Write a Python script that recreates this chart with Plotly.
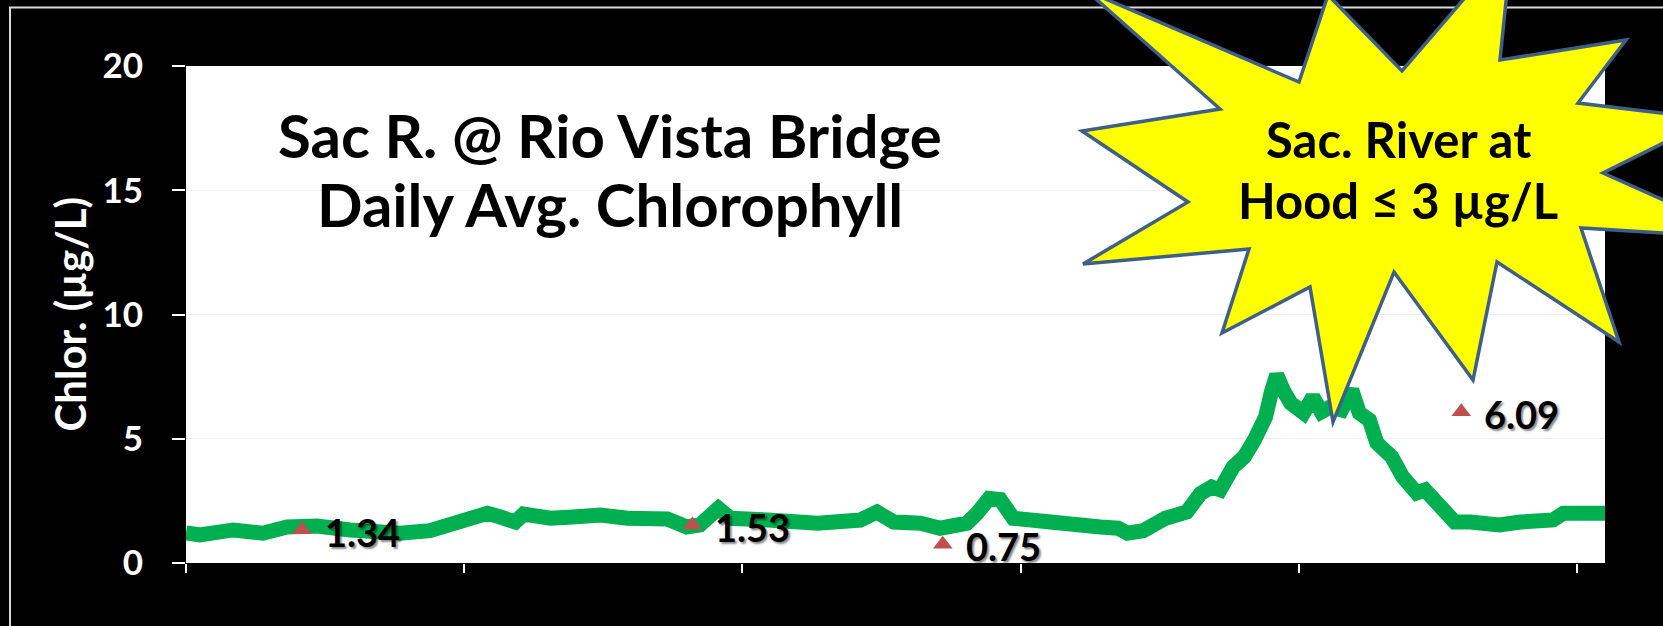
import plotly.graph_objects as go

# ---------------- data ----------------
days = [0.0, 1.5, 5.1, 8.3, 10.9, 14.1, 17.7, 23.1, 26.3, 29.6, 31.4, 32.5, 33.9, 35.5,
        36.4, 39.3, 41.7, 43.9, 44.7, 47.6, 51.9, 54.0, 55.4, 57.4, 58.7, 62.7, 68.1,
        72.7, 74.5, 76.3, 79.2, 81.3, 84.2, 85.3, 86.6, 87.8, 89.2, 93.2, 95.7, 98.6,
        100.5, 101.5, 103.2, 105.6, 107.9, 109.4, 110.6, 111.5, 112.9, 114.1, 115.2,
        116.4, 117.0, 117.6, 118.3, 119.1, 120.5, 121.5, 122.4, 123.4, 124.6, 125.7,
        126.5, 127.6, 128.4, 130.0, 131.2, 132.7, 133.6, 134.6, 135.8, 136.8, 138.5,
        141.6, 143.9, 147.4, 148.5, 151.2, 153.0]
chlor = [1.21, 1.13, 1.33, 1.20, 1.45, 1.49, 1.33, 1.20, 1.30, 1.60, 1.77, 2.00, 1.85, 1.65,
         1.97, 1.80, 1.85, 2.00, 1.93, 1.80, 1.77, 1.45, 1.53, 2.20, 1.80, 1.73, 1.60,
         1.73, 2.05, 1.65, 1.60, 1.40, 1.60, 2.00, 2.60, 2.55, 1.80, 1.65, 1.49, 1.45,
         1.40, 1.20, 1.30, 1.80, 2.05, 2.80, 3.06, 2.94, 3.86, 4.27, 4.95,
         5.88, 6.84, 7.57, 6.96, 6.44, 6.04, 6.68, 6.08, 6.28, 6.16, 6.96,
         6.04, 5.75, 4.83, 4.27, 3.46, 2.82, 2.94, 2.54, 2.20, 1.65, 1.65,
         1.53, 1.65, 1.73, 2.00, 1.93, 2.00]

hood_days = [12.5, 54.6, 81.6, 137.5]
hood_vals = [1.34, 1.53, 0.75, 6.09]
hood_labels = ["1.34", "1.53", "0.75", "6.09"]

y_ticks = [0, 5, 10, 15, 20]
x_ticks = [0, 30, 60, 90, 120, 150]

title_lines = ["Sac R. @ Rio Vista Bridge", "Daily Avg. Chlorophyll"]
star_lines = ["Sac. River at", "Hood \u2264 3 \u00b5g/L"]
y_title = "Chlor. (\u00b5g/L)"

# ---------------- layout geometry ----------------
FIG_W, FIG_H = 1663, 626
L, T, R, B = 186, 66, 1605, 563
PW, PH = R - L, B - T


def px(x):
    return (x - L) / PW


def py(y):
    return (B - y) / PH


FONT = "Lato"

fig = go.Figure()

fig.add_trace(go.Scatter(
    x=days, y=chlor, mode="lines",
    line=dict(color="#00B050", width=15),
    hoverinfo="skip", showlegend=False,
))

fig.add_trace(go.Scatter(
    x=hood_days, y=hood_vals, mode="markers",
    marker=dict(symbol="triangle-up", size=17, color="#C0504D", line=dict(width=0)),
    hoverinfo="skip", showlegend=False,
))

annotations = []
for xd, yv, lab in zip(hood_days, hood_vals, hood_labels):
    annotations.append(dict(
        x=xd, y=yv, xref="x", yref="y", text=lab, showarrow=False,
        xanchor="left", yanchor="middle", xshift=21, yshift=-2,
        font=dict(family=FONT, size=38, color="black", weight="bold",
                  shadow="2px 2px 2px rgba(0,0,0,0.45)"),
    ))

# Chart title lines
for txt, yy in zip(title_lines, [135, 204]):
    annotations.append(dict(
        x=px(610), y=py(yy), xref="paper", yref="paper", text=txt, showarrow=False,
        xanchor="center", yanchor="middle",
        font=dict(family=FONT, size=60, color="black", weight="bold"),
    ))

# y-axis title
annotations.append(dict(
    x=px(69), y=0.5, xref="paper", yref="paper", text=y_title, showarrow=False,
    textangle=-90, xanchor="center", yanchor="middle",
    font=dict(family=FONT, size=42, color="white", weight="bold"),
))

# starburst callout
star_px = [(1087, -9), (1299, 82), (1328, -5), (1402, 71), (1512, -57), (1500, 60),
           (1626, 40), (1578, 103), (1712, 119), (1603, 173), (1748, 238), (1581, 228),
           (1619, 342), (1497, 262), (1473, 380), (1394, 272), (1333, 422), (1310, 287),
           (1222, 333), (1249, 249), (1083, 264), (1188, 202), (1082, 131), (1220, 109)]
path = "M " + " L ".join(f"{px(x):.5f},{py(y):.5f}" for x, y in star_px) + " Z"

shapes = [
    dict(type="path", path=path, xref="paper", yref="paper",
         fillcolor="#FFFF00", line=dict(color="#3E5F8A", width=3.5), layer="above"),
    dict(type="rect", xref="paper", yref="paper",
         x0=px(10), x1=px(1700), y0=py(700), y1=py(7.5),
         line=dict(color="#D9D9D9", width=2), fillcolor="rgba(0,0,0,0)", layer="below"),
]

for txt, yy in zip(star_lines, [139, 200]):
    annotations.append(dict(
        x=px(1398), y=py(yy), xref="paper", yref="paper", text=txt, showarrow=False,
        xanchor="center", yanchor="middle",
        font=dict(family=FONT, size=49, color="black", weight="bold"),
    ))

fig.update_layout(
    width=FIG_W, height=FIG_H,
    margin=dict(l=L, r=FIG_W - R, t=T, b=FIG_H - B, pad=0),
    paper_bgcolor="black", plot_bgcolor="white",
    annotations=annotations, shapes=shapes, showlegend=False,
)

fig.update_xaxes(
    range=[0, 153], tickvals=x_ticks, showticklabels=False,
    ticks="outside", ticklen=9, tickwidth=1.5, tickcolor="white",
    showgrid=False, zeroline=False, showline=False, fixedrange=True,
)
fig.update_yaxes(
    range=[0, 20], tickvals=y_ticks, ticktext=[str(v) for v in y_ticks],
    ticks="outside", ticklen=13, tickwidth=1.5, tickcolor="white",
    ticklabelstandoff=22,
    tickfont=dict(family=FONT, size=35, color="white", weight="bold"),
    showgrid=True, gridcolor="#EFEFEF", gridwidth=1,
    zeroline=False, showline=False, fixedrange=True,
)

fig.write_html("out.html", config={"displayModeBar": False},
               post_script="document.body.style.margin='0';")
